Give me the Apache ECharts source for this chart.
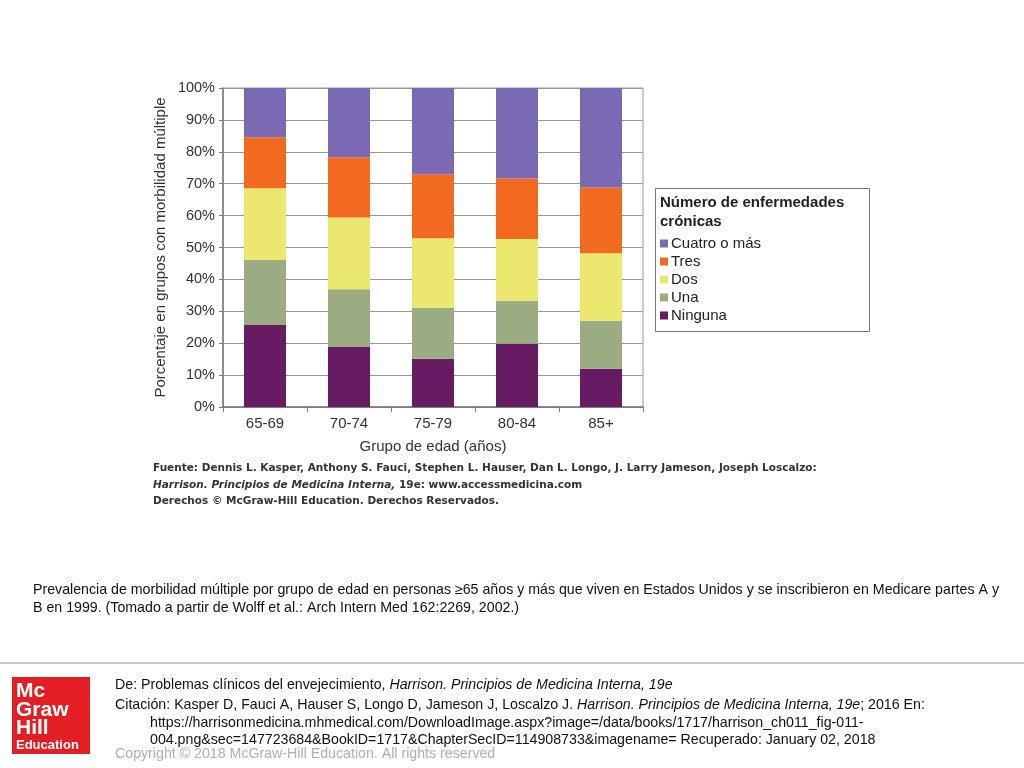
<!DOCTYPE html>
<html><head><meta charset="utf-8">
<script src="https://cdn.jsdelivr.net/npm/echarts@6/dist/echarts.min.js"></script>
<style>html,body{margin:0;padding:0;background:#fff}#c{width:1024px;height:768px}</style>
</head><body><div id="c"></div>
<script>
const categories = ['65-69','70-74','75-79','80-84','85+'];
const ninguna = [25.7, 18.8, 15.1, 19.8, 12.0];
const una     = [20.4, 18.1, 16.0, 13.5, 15.0];
const dos     = [22.5, 22.5, 21.8, 19.4, 21.2];
const tres    = [16.0, 18.9, 20.1, 18.9, 20.6];
const cuatro  = [15.4, 21.7, 27.0, 28.4, 31.2];
const seriesNames = ['Ninguna','Una','Dos','Tres','Cuatro o más'];
const seriesColors = ['#661b62','#9bab82','#ece86f','#f26a20','#7b69b3'];
const seriesData = [ninguna, una, dos, tres, cuatro];

const chart = echarts.init(document.getElementById('c'));
const F = "'Liberation Sans', Arial, Helvetica, sans-serif";
const FS = 14.2;

const option = {
  backgroundColor: '#fff',
  animation: false,
  grid: { left: 223, right: 381, top: 88, bottom: 361, show: true, borderColor: '#9a9a9a', borderWidth: 1, backgroundColor: 'transparent' },
  legend: {
    orient: 'vertical', left: 655, top: 231,
    data: ['Cuatro o más','Tres','Dos','Una','Ninguna'],
    itemWidth: 8, itemHeight: 8, itemGap: 3,
    icon: 'rect',
    textStyle: { fontFamily: F, fontSize: 15, color: '#222', padding: [0,0,0,-2] }
  },
  xAxis: {
    type: 'category', data: categories,
    name: 'Grupo de edad (años)', nameLocation: 'middle', nameGap: 32,
    nameTextStyle: { fontFamily: F, fontSize: 15, color: '#333' },
    axisLine: { lineStyle: { color: '#777', width: 1.5 } },
    axisTick: { show: true, length: 5, lineStyle: { color: '#777' } },
    axisLabel: { fontFamily: F, fontSize: 15, color: '#333', margin: 9 }
  },
  yAxis: {
    type: 'value', min: 0, max: 100, interval: 10,
    name: 'Porcentaje en grupos con morbilidad múltiple', nameLocation: 'middle', nameGap: 55,
    nameTextStyle: { fontFamily: F, fontSize: 15, color: '#333' },
    axisLine: { show: true, lineStyle: { color: '#777', width: 1.5 } },
    axisTick: { show: true, length: 4, lineStyle: { color: '#777' } },
    axisLabel: { fontFamily: F, fontSize: 14.5, color: '#333', margin: 8, formatter: '{value}%' },
    splitLine: { show: true, lineStyle: { color: '#9a9a9a', width: 1 } }
  },
  series: seriesNames.map((n, i) => ({
    name: n, type: 'bar', stack: 'total', data: seriesData[i],
    barWidth: '50%', itemStyle: { color: seriesColors[i] }
  })),
  graphic: [
    { type: 'rect', left: 653, top: 186, shape: { width: 214, height: 143 }, style: { fill: 'none', stroke: '#777', lineWidth: 1 } },
    { type: 'text', left: 660, top: 193, style: { text: 'Número de enfermedades\ncrónicas', font: "bold 15px " + F, fill: '#222', lineHeight: 19 } },
    { type: 'text', left: 153, top: 463, style: {
        rich: {
          b: { fontFamily: "'DejaVu Sans', Verdana, sans-serif", fontSize: 10.5, fontWeight: 'bold', fill: '#333', lineHeight: 16.5 },
          i: { fontFamily: "'DejaVu Sans', Verdana, sans-serif", fontSize: 10.5, fontWeight: 'bold', fontStyle: 'italic', fill: '#333', lineHeight: 16.5 }
        },
        text: '{b|Fuente: Dennis L. Kasper, Anthony S. Fauci, Stephen L. Hauser, Dan L. Longo, J. Larry Jameson, Joseph Loscalzo:}\n{i|Harrison. Principios de Medicina Interna,}{b| 19e: www.accessmedicina.com}\n{b|Derechos © McGraw-Hill Education. Derechos Reservados.}'
    } },
    { type: 'text', left: 33, top: 581, style: { text: 'Prevalencia de morbilidad múltiple por grupo de edad en personas ≥65 años y más que viven en Estados Unidos y se inscribieron en Medicare partes A y\nB en 1999. (Tomado a partir de Wolff et al.: Arch Intern Med 162:2269, 2002.)', font: FS + "px " + F, fill: '#111', lineHeight: 18 } },
    { type: 'rect', left: 0, top: 662, shape: { width: 1024, height: 2 }, style: { fill: '#c8c8c8' } },
    { type: 'rect', left: 12, top: 677, shape: { width: 78, height: 77 }, style: { fill: '#e31e24' } },
    { type: 'text', left: 16, top: 681, style: { text: 'Mc\nGraw\nHill', font: "bold 21px " + F, fill: '#fff', lineHeight: 18.5 } },
    { type: 'text', left: 16, top: 739, style: { text: 'Education', font: "bold 13px " + F, fill: '#fff' } },
    { type: 'text', left: 115, top: 678, style: {
        rich: {
          n: { fontFamily: F, fontSize: FS, fill: '#111' },
          i: { fontFamily: F, fontSize: FS, fontStyle: 'italic', fill: '#111' }
        },
        text: '{n|De: Problemas clínicos del envejecimiento, }{i|Harrison. Principios de Medicina Interna, 19e}'
    } },
    { type: 'text', left: 115, top: 698, style: {
        rich: {
          n: { fontFamily: F, fontSize: FS, fill: '#111' },
          i: { fontFamily: F, fontSize: FS, fontStyle: 'italic', fill: '#111' }
        },
        text: '{n|Citación: Kasper D, Fauci A, Hauser S, Longo D, Jameson J, Loscalzo J. }{i|Harrison. Principios de Medicina Interna, 19e}{n|; 2016 En:}'
    } },
    { type: 'text', left: 150, top: 715, style: { text: 'https://harrisonmedicina.mhmedical.com/DownloadImage.aspx?image=/data/books/1717/harrison_ch011_fig-011-\n004.png&sec=147723684&BookID=1717&ChapterSecID=114908733&imagename= Recuperado: January 02, 2018', font: FS + "px " + F, fill: '#111', lineHeight: 16.5 } },
    { type: 'text', left: 115, top: 747, style: { text: 'Copyright © 2018 McGraw-Hill Education. All rights reserved', font: FS + "px " + F, fill: '#b0b0b0' } }
  ]
};
chart.setOption(option);
</script></body></html>
